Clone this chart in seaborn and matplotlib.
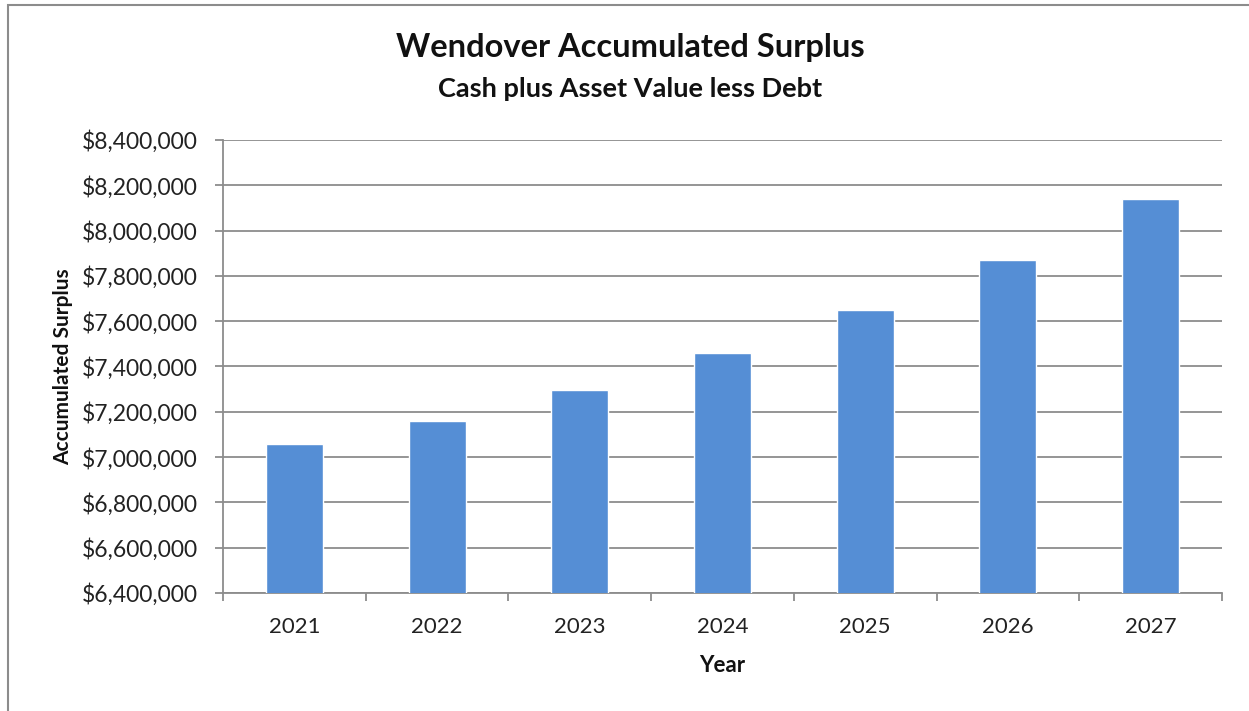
import matplotlib
matplotlib.use("Agg")
import matplotlib.pyplot as plt
import matplotlib.patches as mpatches
from matplotlib.ticker import FuncFormatter, FixedLocator
import seaborn as sns
import pandas as pd

years = ["2021", "2022", "2023", "2024", "2025", "2026", "2027"]
surplus = [7058000, 7161000, 7295000, 7461000, 7649000, 7872000, 8140000]
y_ticks = [6400000, 6600000, 6800000, 7000000, 7200000, 7400000, 7600000, 7800000, 8000000, 8200000, 8400000]

df = pd.DataFrame({"Year": years, "Surplus": surplus})

sns.set_style("white")
plt.rcParams["font.family"] = ["Lato", "DejaVu Sans"]

fig = plt.figure(figsize=(12.49, 7.11), dpi=100)
ax = fig.add_axes([223/1249, 1-593/711, (1222-223)/1249, (593-140)/711])

sns.barplot(data=df, x="Year", y="Surplus", color="#558ED5", width=0.40,
            saturation=1, ax=ax, zorder=3)

ax.set_ylim(y_ticks[0], y_ticks[-1])
ax.set_xlim(-0.5, len(years) - 0.5)
ax.yaxis.set_major_locator(FixedLocator(y_ticks))
ax.yaxis.set_major_formatter(FuncFormatter(lambda v, p: f"${v:,.0f}"))
ax.grid(axis="y", color="#8c8c8c", linewidth=1.3, zorder=0)
ax.set_axisbelow(True)

grey = "#8c8c8c"
for s in ["top", "right"]:
    ax.spines[s].set_visible(False)
for s in ["left", "bottom"]:
    ax.spines[s].set_color(grey)
    ax.spines[s].set_linewidth(1.3)

ax.tick_params(axis="y", length=6, width=1.3, color=grey, labelsize=16.5,
               labelcolor="#222222", pad=12, direction="out", left=True)
ax.tick_params(axis="x", which="major", length=0, labelsize=16,
               labelcolor="#222222", pad=17)
ax.set_xticks([i - 0.5 for i in range(len(years) + 1)], minor=True)
ax.tick_params(axis="x", which="minor", length=6, width=1.3, color=grey,
               direction="out", bottom=True)

ax.set_xlabel("Year", fontsize=16, fontweight="bold", labelpad=13, color="#111111")
ax.set_ylabel("Accumulated Surplus", fontsize=15, fontweight="bold", labelpad=6, color="#111111")

fig.text(0.5045, 1-48/711, "Wendover Accumulated Surplus", ha="center", va="center",
         fontsize=23.5, fontweight="bold", color="#111111")
fig.text(0.5045, 1-89/711, "Cash plus Asset Value less Debt", ha="center", va="center",
         fontsize=19.5, fontweight="bold", color="#111111")

border = mpatches.Rectangle((8/1249, -0.2), 1.5, 1.2 - 5/711, transform=fig.transFigure,
                            fill=False, edgecolor="#8c8c8c", linewidth=1.5, clip_on=False)
fig.patches.append(border)

fig.savefig("out.png", dpi=100, facecolor="white")
